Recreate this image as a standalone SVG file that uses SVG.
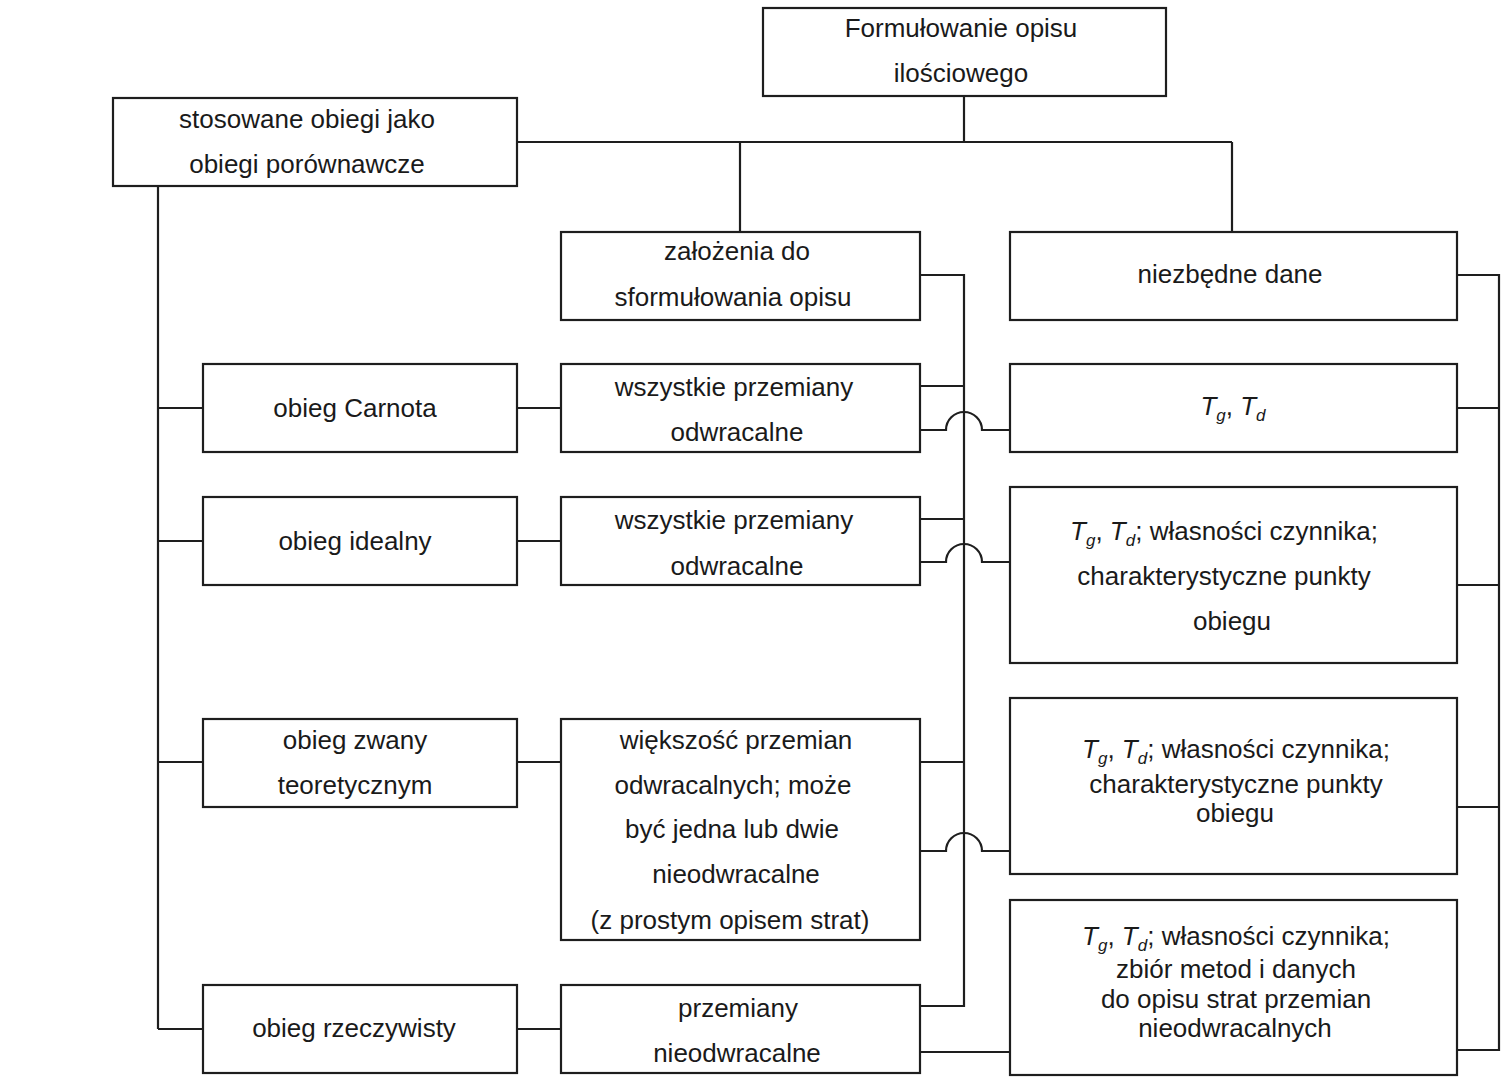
<svg xmlns="http://www.w3.org/2000/svg" width="1505" height="1077" viewBox="0 0 1505 1077">
<style>
  .box { fill: #ffffff; stroke: #1e1e1e; stroke-width: 2.2; }
  .conn path { fill: none; stroke: #1e1e1e; stroke-width: 2.2; }
  text { font-family: "Liberation Sans", Arial, sans-serif; font-size: 26px; fill: #1a1a1a; text-anchor: middle; }
  .it { font-style: italic; }
  .sub { font-style: italic; font-size: 17px; }
</style>
<rect width="1505" height="1077" fill="#ffffff"/>

<g id="connectors" class="conn">
  <path d="M964,96 V142"/>
  <path d="M517,142 H1232"/>
  <path d="M740,142 V232"/>
  <path d="M1232,142 V232"/>
  <path d="M158,186 V1029"/>
  <path d="M158,408 H203"/>
  <path d="M158,541 H203"/>
  <path d="M158,762 H203"/>
  <path d="M158,1029 H203"/>
  <path d="M517,408 H561"/>
  <path d="M517,541 H561"/>
  <path d="M517,762 H561"/>
  <path d="M517,1029 H561"/>
  <path d="M920,275 H964 V1006 H920"/>
  <path d="M920,386 H964"/>
  <path d="M920,519 H964"/>
  <path d="M920,762 H964"/>
  <path d="M920,430 H946 A18,18 0 0 1 982,430 H1010"/>
  <path d="M920,562 H946 A18,18 0 0 1 982,562 H1010"/>
  <path d="M920,851 H946 A18,18 0 0 1 982,851 H1010"/>
  <path d="M920,1052 H1010"/>
  <path d="M1457,275 H1499 V1050 H1457"/>
  <path d="M1457,408 H1499"/>
  <path d="M1457,585 H1499"/>
  <path d="M1457,807 H1499"/>
</g>

<g id="n-formulowanie">
  <rect class="box" x="763" y="8" width="403" height="88"/>
  <text x="961" y="37">Formułowanie opisu</text>
  <text x="961" y="82">ilościowego</text>
</g>

<g id="n-stosowane">
  <rect class="box" x="113" y="98" width="404" height="88"/>
  <text x="307" y="128">stosowane obiegi jako</text>
  <text x="307" y="173">obiegi porównawcze</text>
</g>

<g id="n-zalozenia">
  <rect class="box" x="561" y="232" width="359" height="88"/>
  <text x="737" y="260">założenia do</text>
  <text x="733" y="306">sformułowania opisu</text>
</g>

<g id="n-niezbedne">
  <rect class="box" x="1010" y="232" width="447" height="88"/>
  <text x="1230" y="283">niezbędne dane</text>
</g>

<g id="n-carnot">
  <rect class="box" x="203" y="364" width="314" height="88"/>
  <text x="355" y="417">obieg Carnota</text>
</g>

<g id="n-carnot-zal">
  <rect class="box" x="561" y="364" width="359" height="88"/>
  <text x="734" y="396">wszystkie przemiany</text>
  <text x="737" y="441">odwracalne</text>
</g>

<g id="n-carnot-dane">
  <rect class="box" x="1010" y="364" width="447" height="88"/>
  <text x="1233" y="415"><tspan class="it">T</tspan><tspan class="sub" dy="6">g</tspan><tspan dy="-6">, </tspan><tspan class="it">T</tspan><tspan class="sub" dy="6">d</tspan></text>
</g>

<g id="n-idealny">
  <rect class="box" x="203" y="497" width="314" height="88"/>
  <text x="355" y="550">obieg idealny</text>
</g>

<g id="n-idealny-zal">
  <rect class="box" x="561" y="497" width="359" height="88"/>
  <text x="734" y="529">wszystkie przemiany</text>
  <text x="737" y="575">odwracalne</text>
</g>

<g id="n-idealny-dane">
  <rect class="box" x="1010" y="487" width="447" height="176"/>
  <text x="1224" y="540"><tspan class="it">T</tspan><tspan class="sub" dy="6">g</tspan><tspan dy="-6">, </tspan><tspan class="it">T</tspan><tspan class="sub" dy="6">d</tspan><tspan dy="-6">; własności czynnika;</tspan></text>
  <text x="1224" y="585">charakterystyczne punkty</text>
  <text x="1232" y="630">obiegu</text>
</g>

<g id="n-teoretyczny">
  <rect class="box" x="203" y="719" width="314" height="88"/>
  <text x="355" y="749">obieg zwany</text>
  <text x="355" y="794">teoretycznym</text>
</g>

<g id="n-teoretyczny-zal">
  <rect class="box" x="561" y="719" width="359" height="221"/>
  <text x="736" y="749">większość przemian</text>
  <text x="733" y="794">odwracalnych; może</text>
  <text x="732" y="838">być jedna lub dwie</text>
  <text x="736" y="883">nieodwracalne</text>
  <text x="730" y="929">(z prostym opisem strat)</text>
</g>

<g id="n-teoretyczny-dane">
  <rect class="box" x="1010" y="698" width="447" height="176"/>
  <text x="1236" y="758"><tspan class="it">T</tspan><tspan class="sub" dy="6">g</tspan><tspan dy="-6">, </tspan><tspan class="it">T</tspan><tspan class="sub" dy="6">d</tspan><tspan dy="-6">; własności czynnika;</tspan></text>
  <text x="1236" y="793">charakterystyczne punkty</text>
  <text x="1235" y="822">obiegu</text>
</g>

<g id="n-rzeczywisty">
  <rect class="box" x="203" y="985" width="314" height="88"/>
  <text x="354" y="1037">obieg rzeczywisty</text>
</g>

<g id="n-rzeczywisty-zal">
  <rect class="box" x="561" y="985" width="359" height="88"/>
  <text x="738" y="1017">przemiany</text>
  <text x="737" y="1062">nieodwracalne</text>
</g>

<g id="n-rzeczywisty-dane">
  <rect class="box" x="1010" y="900" width="447" height="175"/>
  <text x="1236" y="945"><tspan class="it">T</tspan><tspan class="sub" dy="6">g</tspan><tspan dy="-6">, </tspan><tspan class="it">T</tspan><tspan class="sub" dy="6">d</tspan><tspan dy="-6">; własności czynnika;</tspan></text>
  <text x="1236" y="978">zbiór metod i danych</text>
  <text x="1236" y="1008">do opisu strat przemian</text>
  <text x="1235" y="1037">nieodwracalnych</text>
</g>
</svg>
